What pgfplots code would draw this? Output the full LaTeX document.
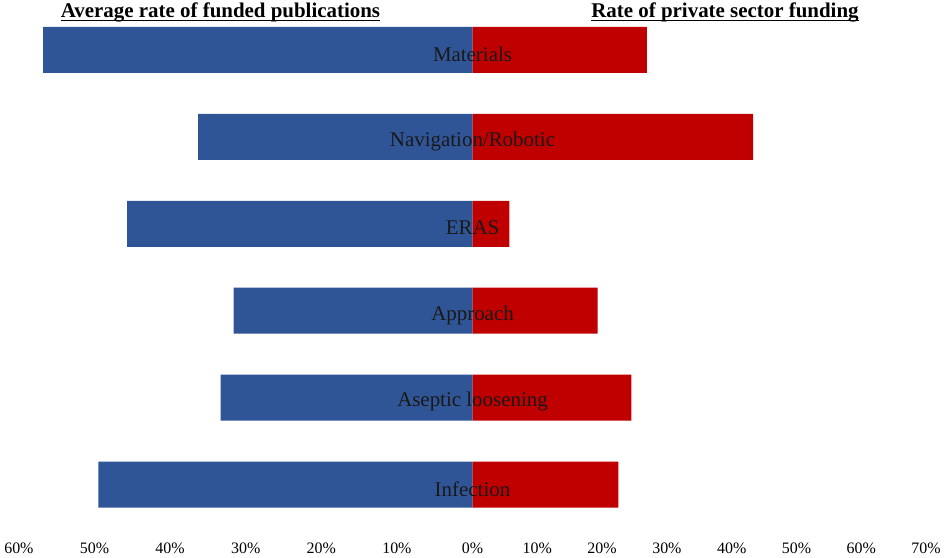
\documentclass[border=0pt]{standalone}
\usepackage{fontspec}
\setmainfont{Liberation Serif}
\usepackage{pgfplots}
\pgfplotsset{compat=1.18}
\definecolor{barblue}{HTML}{2F5597}
\definecolor{barred}{HTML}{C00000}
\begin{document}
\begin{tikzpicture}
\pgfplotsset{
  common/.style={
    scale only axis,
    width=453.6bp, height=521.5bp,
    ymin=-0.5, ymax=5.5, y dir=reverse,
    ytick=\empty,
    axis line style={draw=none},
    major tick length=0pt,
    xtick pos=bottom,
    /pgf/number format/assume math mode=true,
    xticklabel style={anchor=base, yshift=-25.5bp, font=\fontsize{16}{19}\selectfont},
    clip=false,
  }
}
% left axis: average rate of funded publications
\begin{axis}[common,
  at={(18.9bp,30bp)}, anchor=south west,
  xmin=0, xmax=60, x dir=reverse,
  xtick={0,10,20,30,40,50,60},
  xticklabels={0\%,10\%,20\%,30\%,40\%,50\%,60\%},
]
\addplot[xbar, bar width=0.53, bar shift=0pt, fill=barblue, draw=none]
  coordinates {(56.8,0) (36.3,1) (45.7,2) (31.6,3) (33.3,4) (49.5,5)};
\end{axis}
% right axis: rate of private sector funding
\begin{axis}[common,
  at={(472.5bp,30bp)}, anchor=south west,
  xmin=0, xmax=70,
  xtick={10,20,30,40,50,60,70},
  xticklabels={10\%,20\%,30\%,40\%,50\%,60\%,70\%},
]
\addplot[xbar, bar width=0.53, bar shift=0pt, fill=barred, draw=none]
  coordinates {(26.9,0) (43.3,1) (5.7,2) (19.3,3) (24.5,4) (22.5,5)};
\begin{scope}[every node/.style={font=\fontsize{21}{25}\selectfont, text=black!90, anchor=center}]
\node at (axis cs:0,0.05) {Materials};
\node at (axis cs:0,1.05) {Navigation/Robotic};
\node at (axis cs:0,2.05) {ERAS};
\node at (axis cs:0,3.05) {Approach};
\node at (axis cs:0,4.05) {Aseptic loosening};
\node at (axis cs:0,5.05) {Infection};
\end{scope}
\end{axis}
% titles
\node[anchor=base, inner sep=0pt, font=\fontsize{21}{25}\selectfont\bfseries] (t1) at (220.5bp,540bp) {Average rate of funded publications};
\draw[line width=1.4bp] ([yshift=-2.8bp]t1.base west) -- ([yshift=-2.8bp]t1.base east);
\node[anchor=base, inner sep=0pt, font=\fontsize{21}{25}\selectfont\bfseries] (t2) at (725bp,540bp) {Rate of private sector funding};
\draw[line width=1.4bp] ([yshift=-2.8bp]t2.base west) -- ([yshift=-2.8bp]t2.base east);
\pgfresetboundingbox
\useasboundingbox (0,0) rectangle (945bp,558bp);
\end{tikzpicture}
\end{document}
